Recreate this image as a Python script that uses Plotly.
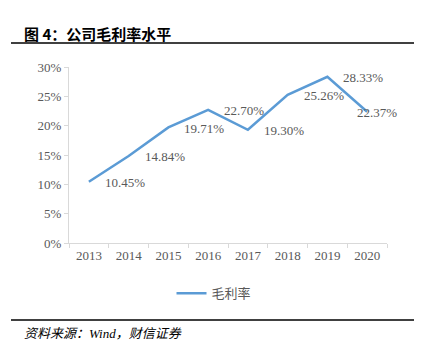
import plotly.graph_objects as go

years = ["2013", "2014", "2015", "2016", "2017", "2018", "2019", "2020"]
gross_margin = [10.45, 14.84, 19.71, 22.70, 19.30, 25.26, 28.33, 22.37]
label_text = ["10.45%", "14.84%", "19.71%", "22.70%", "19.30%", "25.26%", "28.33%", "22.37%"]
label_shift = [14, 14, 14, 14, 14, 14, 14, -12]
series_name = "毛利率"
title_text = "图 4：公司毛利率水平"
source_text = "资料来源：Wind，财信证券"

serif = "Liberation Serif, Times New Roman, serif"
cjk = "Noto Sans CJK SC"
gray = "#595959"
axis_gray = "#d9d9d9"

fig = go.Figure()
fig.add_trace(go.Scatter(
    x=years, y=gross_margin, mode="lines", name=series_name,
    line=dict(color="#5B9BD5", width=2.5),
))

for i, (yv, t, s) in enumerate(zip(gross_margin, label_text, label_shift)):
    fig.add_annotation(x=i, y=yv, xref="x", yref="y", text=t, showarrow=False,
                       xanchor="left", yanchor="middle", xshift=s, yshift=-1,
                       font=dict(family=serif, size=13, color=gray))

fig.update_layout(
    width=429, height=354,
    margin=dict(l=69, r=42, t=67, b=111),
    paper_bgcolor="white", plot_bgcolor="white",
    showlegend=True,
    legend=dict(orientation="h", x=0.456, xanchor="center", y=-0.2, yanchor="top",
                font=dict(family=cjk, size=13, color=gray)),
    xaxis=dict(type="category", range=[-0.5, 7.5], showgrid=False,
               showline=True, linecolor=axis_gray, linewidth=1,
               ticks="outside", tickson="boundaries", ticklen=4, tickcolor=axis_gray,
               tickfont=dict(family=serif, size=13, color=gray)),
    yaxis=dict(range=[0, 30], dtick=5, ticksuffix="%", showgrid=False,
               zeroline=False, showline=True, linecolor=axis_gray, linewidth=1,
               ticks="outside", ticklen=4, tickcolor=axis_gray,
               tickfont=dict(family=serif, size=13, color=gray)),
)

# title and source
fig.add_annotation(text="<b>" + title_text + "</b>", xref="paper", yref="paper",
                   x=(22 - 69) / 318, y=(243 - 33) / 176, xanchor="left", yanchor="middle",
                   showarrow=False, font=dict(family=cjk, size=15, color="black"))
fig.add_annotation(text="<i>" + source_text + "</i>", xref="paper", yref="paper",
                   x=(22 - 69) / 318, y=(243 - 333) / 176, xanchor="left", yanchor="middle",
                   showarrow=False, font=dict(family=serif + ", " + cjk, size=13, color="black"))
fig.add_shape(type="line", xref="paper", yref="paper",
              x0=(11 - 69) / 318, x1=(414 - 69) / 318,
              y0=(243 - 43) / 176, y1=(243 - 43) / 176,
              line=dict(color="black", width=1.5))
fig.add_shape(type="line", xref="paper", yref="paper",
              x0=(11 - 69) / 318, x1=(414 - 69) / 318,
              y0=(243 - 320) / 176, y1=(243 - 320) / 176,
              line=dict(color="black", width=1.5))

fig.write_html("out.html")
